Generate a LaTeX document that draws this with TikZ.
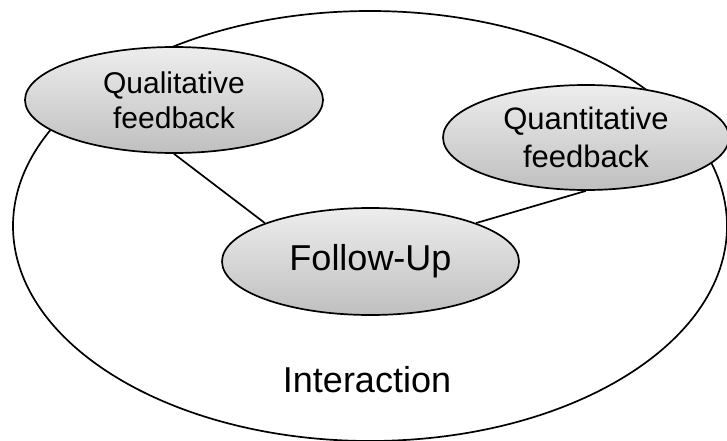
\documentclass[tikz,border=0pt]{standalone}
\usepackage{fontspec}
\setmainfont{Liberation Sans}
\usetikzlibrary{shapes.geometric}
\tikzset{
  bubble/.style={ellipse, draw=black, line width=1.7pt, top color=black!7, bottom color=black!25, inner sep=0pt, align=center},
  link/.style={draw=black, line width=1.7pt}
}
\begin{document}
\begin{tikzpicture}[x=1pt,y=-1pt]
\useasboundingbox (0,0) rectangle (727,441);
\node[ellipse, draw=black, line width=1.7pt, minimum width=714pt, minimum height=430pt, inner sep=0pt] (big) at (370,226) {};
\node[bubble, minimum width=298pt, minimum height=106pt, font=\fontsize{30}{35}\selectfont] (ql) at (174,100) {Qualitative\\feedback};
\node[bubble, minimum width=286pt, minimum height=105pt, font=\fontsize{31}{38}\selectfont] (qn) at (586,137.5) {Quantitative\\feedback};
\node[bubble, minimum width=297pt, minimum height=107pt, font=\fontsize{36}{40}\selectfont] (fu) at (370.5,261.5) {Follow-Up};
\node[font=\fontsize{36}{40}\selectfont, inner sep=0pt] (ia) at (367,380) {Interaction};
\draw[link] (ql.south) -- (fu.north west);
\draw[link] (fu.north east) -- (qn.south);
\end{tikzpicture}
\end{document}
